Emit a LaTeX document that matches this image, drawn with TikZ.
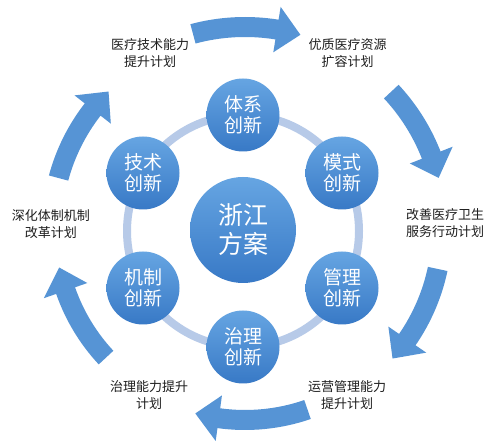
\documentclass[tikz,border=0pt]{standalone}
\usepackage{fontspec}
\setmainfont{Noto Sans CJK SC}
\usetikzlibrary{calc}
\definecolor{arrowblue}{RGB}{86,148,213}
\definecolor{ringblue}{RGB}{183,202,232}
\definecolor{circtop}{RGB}{102,165,226}
\definecolor{circbot}{RGB}{56,121,198}
\definecolor{labelgray}{RGB}{30,30,30}
\newcommand\myarrow[3]{%
  \pgfmathsetmacro\aro{#1+10}%
  \pgfmathsetmacro\ari{#1-10}%
  \pgfmathsetmacro\aho{#1+23}%
  \pgfmathsetmacro\ahi{#1-23}%
  \pgfmathsetmacro\aha{#3+24/#1*180/3.14159}%
  \fill[arrowfill] ([shift={(C)}]#2:\aro pt) arc[start angle=#2, end angle=\aha, radius=\aro pt]
    -- ([shift={(C)}]\aha:\aho pt) -- ([shift={(C)}]#3:#1pt) -- ([shift={(C)}]\aha:\ahi pt)
    -- ([shift={(C)}]\aha:\ari pt) arc[start angle=\aha, end angle=#2, radius=\ari pt] -- cycle;
}
\begin{document}
\begin{tikzpicture}[x=1pt,y=1pt,
  arrowfill/.style={fill=arrowblue},
  smallcirc/.style={circle, minimum size=73pt, inner sep=0pt, top color=circtop, bottom color=circbot,
     text=white, align=center, font=\fontsize{19}{21}\selectfont},
  bigcirc/.style={circle, minimum size=106pt, inner sep=0pt, top color=circtop, bottom color=circbot,
     text=white, align=center, font=\fontsize{25}{29}\selectfont},
  planlabel/.style={text=labelgray, align=center, inner sep=0pt, font=\fontsize{13}{17}\selectfont}]
\useasboundingbox (0,0) rectangle (498,441);
\fill[white] (0,0) rectangle (498,441);
\coordinate (C) at (245,213);
\coordinate (RC) at (243,210);
% outer arrows
\myarrow{201}{105}{74}
\myarrow{200}{43}{14.5}
\myarrow{197}{-12}{-41.5}
\myarrow{192}{-71}{-105}
\myarrow{190}{-137}{-168}
\myarrow{193}{165}{135}
% ring
\draw[ringblue, line width=8pt] (RC) circle[radius=116pt];
% circles
\node[bigcirc] (zj) at (243,211) {浙江\\方案};
\node[smallcirc] (tx) at (243,326) {体系\\创新};
\node[smallcirc] (ms) at (342,268) {模式\\创新};
\node[smallcirc] (gl) at (342,153) {管理\\创新};
\node[smallcirc] (zl) at (243,94) {治理\\创新};
\node[smallcirc] (jz) at (143,153) {机制\\创新};
\node[smallcirc] (js) at (143,268) {技术\\创新};
% labels
\node[planlabel] (l1) at (150,387.5) {医疗技术能力\\提升计划};
\node[planlabel] (l2) at (347.5,387.5) {优质医疗资源\\扩容计划};
\node[planlabel] (l3) at (445,217.5) {改善医疗卫生\\服务行动计划};
\node[planlabel] (l4) at (51,217) {深化体制机制\\改革计划};
\node[planlabel] (l5) at (149,46) {治理能力提升\\计划};
\node[planlabel] (l6) at (347,46) {运营管理能力\\提升计划};
\end{tikzpicture}
\end{document}
